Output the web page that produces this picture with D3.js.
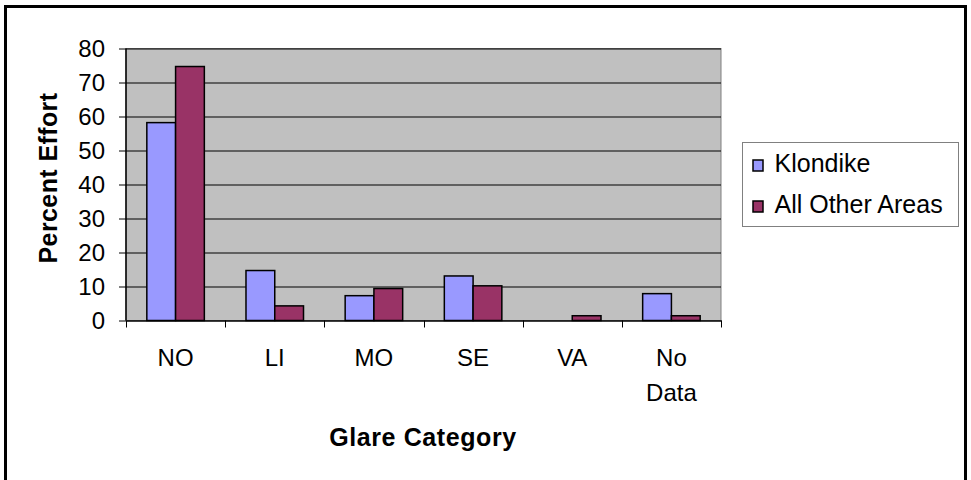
<!DOCTYPE html>
<html>
<head>
<meta charset="utf-8">
<script src="https://cdn.jsdelivr.net/npm/d3@7"></script>
<style>
  body { margin: 0; background: #fff; }
  text { font-family: "Liberation Sans", Arial, sans-serif; fill: #000; }
</style>
</head>
<body>
<div class="chart"></div>
<script>
var svgWidth = 971;
var svgHeight = 480;

// plot area in page pixels
var margin = { top: 48.5, right: 250, bottom: 159.5, left: 126 };
var width = svgWidth - margin.left - margin.right;
var height = svgHeight - margin.top - margin.bottom;

var categories = ["NO", "LI", "MO", "SE", "VA", "No Data"];
var seriesNames = ["Klondike", "All Other Areas"];
var klondike = [58.2, 14.7, 7.3, 13.1, 0, 7.9];
var otherAreas = [74.7, 4.3, 9.4, 10.2, 1.4, 1.4];
var yTicks = [0, 10, 20, 30, 40, 50, 60, 70, 80];
var colors = ["#9999FF", "#993366"];

var svg = d3.select(".chart")
  .append("svg")
  .attr("width", svgWidth)
  .attr("height", svgHeight);

// outer chart border (bottom edge runs off the page)
svg.append("rect")
  .attr("x", 5.5)
  .attr("y", 6.5)
  .attr("width", 960)
  .attr("height", 490)
  .attr("fill", "#fff")
  .attr("stroke", "#000")
  .attr("stroke-width", 3);

var chart = svg.append("g")
  .attr("transform", "translate(" + margin.left + "," + margin.top + ")");

var xScale = d3.scaleBand().domain(categories).range([0, width]);
var yScale = d3.scaleLinear().domain([0, 80]).range([height, 0]);

// plot background
chart.append("rect")
  .attr("width", width)
  .attr("height", height)
  .attr("fill", "#C0C0C0")
  .attr("stroke", "#808080")
  .attr("stroke-width", 1);

// gridlines
chart.append("g")
  .selectAll("line")
  .data(yTicks.slice(1))
  .enter()
  .append("line")
  .attr("x1", 0)
  .attr("x2", width)
  .attr("y1", function(d) { return Math.round(yScale(d)) + 0.5; })
  .attr("y2", function(d) { return Math.round(yScale(d)) + 0.5; })
  .attr("stroke", "#000")
  .attr("stroke-width", 1);

// bars
var barWidth = xScale.step() * 0.29;
var groupOffset = (xScale.step() - 2 * barWidth) / 2;
var series = [klondike, otherAreas];

series.forEach(function(values, s) {
  chart.append("g")
    .selectAll("rect")
    .data(values)
    .enter()
    .append("rect")
    .attr("x", function(d, i) { return xScale(categories[i]) + groupOffset + s * barWidth; })
    .attr("y", function(d) { return yScale(d); })
    .attr("width", barWidth)
    .attr("height", function(d) { return height - yScale(d); })
    .attr("fill", colors[s])
    .attr("stroke", "#000")
    .attr("stroke-width", function(d) { return d > 0 ? 1.5 : 0; });
});

// y axis
var leftAxis = d3.axisLeft(yScale).tickValues(yTicks).tickSize(7).tickPadding(14);
var yAxisG = chart.append("g").attr("class", "y-axis").call(leftAxis);
yAxisG.select(".domain").attr("stroke", "#000").attr("stroke-width", 1.5)
  .attr("d", "M0,0V" + height);
yAxisG.selectAll("text").style("font-size", "24px");

// x axis
var bottomAxis = d3.axisBottom(xScale).tickValues([]).tickSizeOuter(0);
var xAxisG = chart.append("g")
  .attr("class", "x-axis")
  .attr("transform", "translate(0," + height + ")")
  .call(bottomAxis);
xAxisG.select(".domain").attr("stroke", "#000").attr("stroke-width", 1.5);

// category boundary ticks
xAxisG.selectAll(".cat-tick")
  .data(categories.concat(["end"]))
  .enter()
  .append("line")
  .attr("class", "cat-tick")
  .attr("x1", function(d, i) { return Math.round(i * xScale.step()) + 0.5; })
  .attr("x2", function(d, i) { return Math.round(i * xScale.step()) + 0.5; })
  .attr("y1", 0)
  .attr("y2", 7)
  .attr("stroke", "#000");

// category labels (wrap "No Data")
var catLabels = xAxisG.selectAll(".cat-label")
  .data(categories)
  .enter()
  .append("text")
  .attr("class", "cat-label")
  .attr("text-anchor", "middle")
  .attr("y", 45)
  .style("font-size", "24px");

catLabels.each(function(d) {
  var t = d3.select(this);
  var words = d.split(" ");
  words.forEach(function(w, j) {
    t.append("tspan")
      .attr("x", xScale(d) + xScale.bandwidth() / 2)
      .attr("dy", j === 0 ? 0 : 35)
      .text(w);
  });
});

// axis titles
svg.append("text")
  .attr("x", 423)
  .attr("y", 446)
  .attr("text-anchor", "middle")
  .style("font-size", "25px")
  .style("font-weight", "bold")
  .style("letter-spacing", "0.6px")
  .text("Glare Category");

svg.append("text")
  .attr("transform", "translate(56.5,178) rotate(-90)")
  .attr("text-anchor", "middle")
  .style("font-size", "25px")
  .style("font-weight", "bold")
  .style("letter-spacing", "0.4px")
  .text("Percent Effort");

// legend
var legend = svg.append("g").attr("transform", "translate(742.5,142.5)");
legend.append("rect")
  .attr("width", 216)
  .attr("height", 84)
  .attr("fill", "#fff")
  .attr("stroke", "#808080")
  .attr("stroke-width", 1);

var legendItems = legend.selectAll(".legend-item")
  .data(seriesNames)
  .enter()
  .append("g")
  .attr("class", "legend-item")
  .attr("transform", function(d, i) { return "translate(0," + (i * 41) + ")"; });

legendItems.append("rect")
  .attr("x", 10.5)
  .attr("y", 17.5)
  .attr("width", 10)
  .attr("height", 11)
  .attr("fill", function(d, i) { return colors[i]; })
  .attr("stroke", "#000")
  .attr("stroke-width", 1.5);

legendItems.append("text")
  .attr("x", 32)
  .attr("y", 29)
  .style("font-size", "25px")
  .text(function(d) { return d; });
</script>
</body>
</html>
